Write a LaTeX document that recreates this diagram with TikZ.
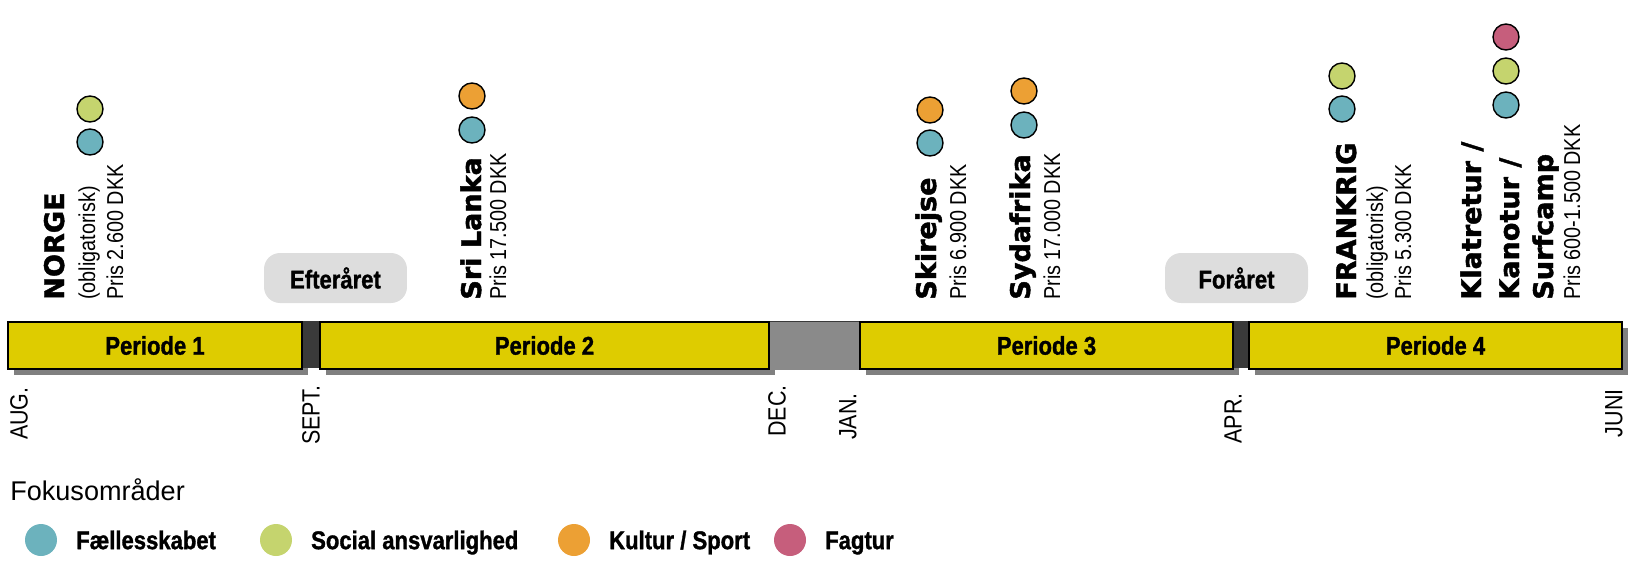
\documentclass[tikz,border=0pt]{standalone}
\usepackage{fontspec}
\setmainfont{Liberation Sans}
\newfontfamily\condfont[FakeStretch=0.86, BoldFeatures={FakeBold=1.2}]{Liberation Sans}
\newfontfamily\heavyfont[BoldFeatures={FakeBold=1.6}]{DejaVu Sans}
\usepackage{xcolor}
\usetikzlibrary{positioning,shadows,calc}

\definecolor{barYellow}{RGB}{222,204,0}
\definecolor{dotTeal}{RGB}{108,178,189}
\definecolor{dotGreen}{RGB}{197,212,110}
\definecolor{dotOrange}{RGB}{236,160,52}
\definecolor{dotPink}{RGB}{198,94,124}
\definecolor{gapDark}{RGB}{58,58,58}
\definecolor{gapGray}{RGB}{138,138,138}
\definecolor{seasonGray}{RGB}{221,221,221}

\tikzset{
  period/.style={draw=black, line width=0.9pt, fill=barYellow, minimum height=0.94cm, inner sep=0,
    font=\condfont\bfseries\fontsize{14.6}{16}\selectfont,
    drop shadow={shadow xshift=0.12cm, shadow yshift=-0.12cm, opacity=1, fill=black!50}},
  season/.style={fill=seasonGray, rounded corners=0.32cm, minimum width=2.86cm, minimum height=1cm,
    font=\condfont\bfseries\fontsize{14.6}{16}\selectfont},
  title/.style={rotate=90, anchor=base west, inner sep=0, font=\heavyfont\bfseries\fontsize{15.4}{18}\selectfont},
  price/.style={rotate=90, anchor=base west, inner sep=0, font=\condfont\fontsize{13.1}{15}\selectfont},
  dot/.style={circle, draw=black, line width=0.8pt, minimum size=0.52cm, inner sep=0},
  month/.style={rotate=90, anchor=east, inner sep=0, font=\condfont\fontsize{14.2}{16}\selectfont},
  legdot/.style={circle, minimum size=0.64cm, inner sep=0},
  legtext/.style={right=0.37cm of #1, inner sep=0, text height=10.4pt, text depth=0pt,
    font=\condfont\bfseries\fontsize{14.6}{16}\selectfont}
}

\begin{document}
\begin{tikzpicture}[x=0.02cm, y=-0.02cm]
\useasboundingbox (0,0) rectangle (1640,582);

% periods
\node[period, minimum width=5.88cm] (p1) at (155,345.5) {Periode 1};
\node[period, minimum width=8.98cm] (p2) at (544.5,345.5) {Periode 2};
\node[period, minimum width=7.46cm] (p3) at (1046.5,345.5) {Periode 3};
\node[period, minimum width=7.46cm] (p4) at (1435.5,345.5) {Periode 4};

\fill[gapDark] (p1.north east) rectangle ($(p2.south west)+(0,-2)$);
\fill[gapDark] (p3.north east) rectangle ($(p4.south west)+(0,-2)$);
\fill[gapGray] (p2.north east) rectangle (p3.south west);
\draw[gapDark, line width=0.6pt] (p2.north east) -- (p3.north west);

\node[season] (efter) at (335.5,278) {Efteråret};
\node[season] (foraar) at (1236.5,278) {Foråret};

% months
\node[month] (aug) at (19,387) {AUG.};
\node[month] (sept) at (311,385) {SEPT.};
\node[month] (dec) at (777,385) {DEC.};
\node[month] (jan) at (848,393) {JAN.};
\node[month] (apr) at (1233,393) {APR.};
\node[month] (juni) at (1614,389) {JUNI};

% trips
\node[title] (norge) at (64,300) {NORGE};
\node[price] (norgeA) at (95,300) {(obligatorisk)};
\node[price] (norgeB) at (123,300) {Pris 2.600 DKK};
\node[title] (srilanka) at (481,300) {Sri Lanka};
\node[price] (srilankaA) at (506,300) {Pris 17.500 DKK};
\node[title] (ski) at (936,300) {Skirejse};
\node[price] (skiA) at (966,300) {Pris 6.900 DKK};
\node[title] (syd) at (1030,300) {Sydafrika};
\node[price] (sydA) at (1060,300) {Pris 17.000 DKK};
\node[title] (frank) at (1356,300) {FRANKRIG};
\node[price] (frankA) at (1383,300) {(obligatorisk)};
\node[price] (frankB) at (1411,300) {Pris 5.300 DKK};
\node[title] (klatre) at (1481,300) {Klatretur /};
\node[title] (kano) at (1519,300) {Kanotur /};
\node[title] (surf) at (1553,300) {Surfcamp};
\node[price] (surfA) at (1580,300) {Pris 600-1.500 DKK};

\foreach \px/\py/\col [count=\i] in {90/109/dotGreen, 90/142/dotTeal,
    472/96/dotOrange, 472/130/dotTeal, 930/110/dotOrange, 930/143/dotTeal,
    1024/91/dotOrange, 1024/125/dotTeal, 1342/76/dotGreen, 1342/109/dotTeal,
    1506/37/dotPink, 1506/71/dotGreen, 1506/105/dotTeal}
  \node[dot, fill=\col] (dot\i) at (\px,\py) {};

% legend
\node[anchor=base west, inner sep=0, font=\fontsize{15.4}{18}\selectfont] (fokus) at (10,500) {Fokusområder};
\node[legdot, fill=dotTeal] (l1) at (41,540) {};
\node[legtext=l1] (t1) {Fællesskabet};
\node[legdot, fill=dotGreen] (l2) at (276,540) {};
\node[legtext=l2] (t2) {Social ansvarlighed};
\node[legdot, fill=dotOrange] (l3) at (574,540) {};
\node[legtext=l3] (t3) {Kultur / Sport};
\node[legdot, fill=dotPink] (l4) at (790,540) {};
\node[legtext=l4] (t4) {Fagtur};
\end{tikzpicture}
\end{document}
